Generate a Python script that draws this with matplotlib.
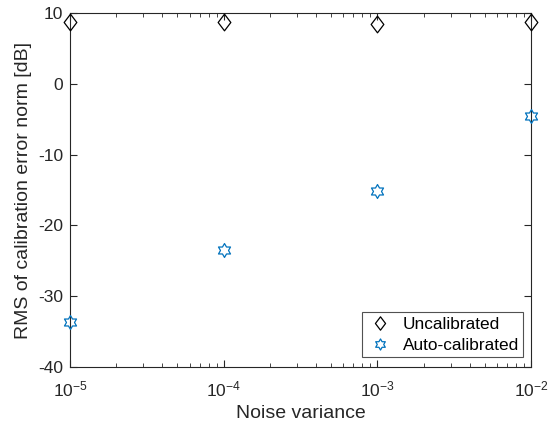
import numpy as np
import matplotlib
matplotlib.use('Agg')
import matplotlib.pyplot as plt
from matplotlib.path import Path

plt.rcParams['font.family'] = ['Liberation Sans', 'DejaVu Sans']
plt.rcParams['axes.unicode_minus'] = False

noise_var = [1e-5, 1e-4, 1e-3, 1e-2]
uncal = [8.8, 8.8, 8.5, 8.8]
autocal = [-33.6, -23.5, -15.2, -4.5]

AX_C = '#262626'
BLUE = '#0072BD'

# MATLAB-like marker shapes
diamond = Path([(0, -1), (0.76, 0), (0, 1), (-0.76, 0), (0, -1)], closed=True)
ang_o = np.deg2rad(90 + 60 * np.arange(6))
ang_i = ang_o + np.deg2rad(30)
r_in = 1 / np.sqrt(3)
hv = []
for a, b in zip(ang_o, ang_i):
    hv.append((np.cos(a), np.sin(a)))
    hv.append((r_in * np.cos(b), r_in * np.sin(b)))
hv.append(hv[0])
hexagram = Path(hv, closed=True)

fig = plt.figure(figsize=(5.49, 4.28), dpi=100)
ax = fig.add_axes([0.1275, 0.1425, 0.8395, 0.827])

ax.plot(noise_var, uncal, ls='none', marker=diamond, ms=12, mfc='none', mec='black',
        mew=0.9, label='Uncalibrated', clip_on=False, zorder=5)
ax.plot(noise_var, autocal, ls='none', marker=hexagram, ms=10, mfc='none', mec=BLUE,
        mew=0.9, label='Auto-calibrated', clip_on=False, zorder=5)

ax.set_xscale('log')
ax.set_xlim(1e-5, 1e-2)
ax.set_ylim(-40, 10)
ax.set_yticks(np.arange(-40, 11, 10))
ax.set_xticks(noise_var)

for s in ax.spines.values():
    s.set_color(AX_C)
    s.set_linewidth(0.8)
ax.tick_params(which='both', direction='in', top=True, right=True, colors=AX_C,
               labelsize=12.5, labelcolor=AX_C, pad=5)
ax.tick_params(axis='x', which='major', pad=9)
ax.tick_params(which='major', length=5)
ax.tick_params(which='minor', length=3)

ax.set_xlabel('Noise variance', fontsize=14, color=AX_C, labelpad=4)
ax.set_ylabel('RMS of calibration error norm [dB]', fontsize=14, color=AX_C, labelpad=4)

leg = ax.legend(loc='lower right', fontsize=12.4, frameon=True, fancybox=False,
                borderpad=0.25, handletextpad=0.5, labelspacing=0.35, handlelength=1.6,
                bbox_to_anchor=(0.983, 0.028), borderaxespad=0, markerscale=0.8)
leg.get_frame().set_edgecolor(AX_C)
leg.get_frame().set_linewidth(0.8)

fig.savefig('out.png', dpi=100, facecolor='white')
